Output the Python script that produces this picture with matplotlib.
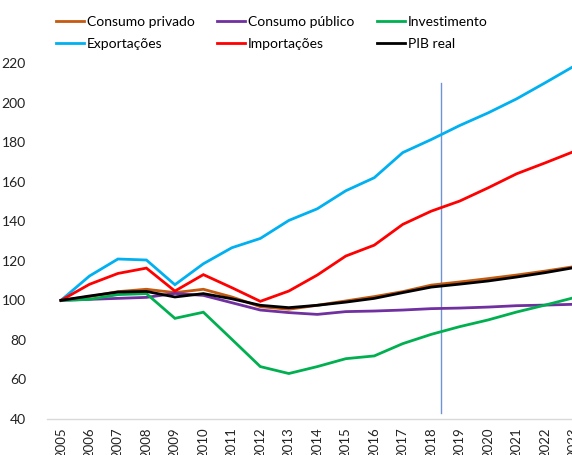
import matplotlib.pyplot as plt
import numpy as np

plt.rcParams['font.family'] = ['Lato', 'DejaVu Sans']

years = [str(y) for y in range(2005, 2024)]

consumo_privado = [100, 101.9, 104.4, 105.6, 103.9, 105.6, 101.7, 96.8, 95.5, 97.5,
                   99.7, 101.9, 104.4, 107.7, 109.3, 111.0, 112.8, 114.8, 117.0]
consumo_publico = [100, 100.5, 101.0, 101.5, 103.5, 102.5, 98.8, 95.1, 93.8, 92.9,
                   94.3, 94.6, 95.1, 95.8, 96.1, 96.6, 97.3, 97.6, 98.0]
investimento = [100, 100.5, 102.9, 103.4, 90.9, 94.0, 80.3, 66.5, 63.0, 66.5,
                70.5, 71.9, 78.1, 82.8, 86.7, 90.1, 94.1, 97.6, 101.3]
exportacoes = [100, 112.3, 120.9, 120.4, 107.9, 118.5, 126.6, 131.3, 140.4, 146.3,
               155.4, 162.0, 174.7, 181.3, 188.4, 194.8, 201.9, 210.0, 218.3]
importacoes = [100, 108.1, 113.6, 116.3, 104.7, 113.0, 106.4, 99.5, 104.7, 112.8,
               122.4, 127.9, 138.4, 145.1, 150.2, 156.9, 164.0, 169.5, 175.2]
pib_real = [100, 102.2, 104.2, 104.5, 101.7, 103.4, 100.8, 97.5, 96.3, 97.5,
            99.1, 101.0, 103.9, 106.7, 108.2, 109.8, 111.8, 114.0, 116.5]

series = [
    ('Consumo privado', consumo_privado, '#C55A11'),
    ('Consumo público', consumo_publico, '#7030A0'),
    ('Investimento', investimento, '#00B050'),
    ('Exportações', exportacoes, '#00B0F0'),
    ('Importações', importacoes, '#FF0000'),
    ('PIB real', pib_real, '#000000'),
]

# vertical marker between 2018 and 2019
marker_x = 13.35
marker_y = [43, 210]

fig = plt.figure(figsize=(5.72, 4.55), dpi=100)
ax = fig.add_axes([0.0817, 0.0791, 0.946, 0.7824])

x = np.arange(len(years))
handles = {}
for name, vals, c in series:
    h, = ax.plot(x, vals, color=c, linewidth=2.0, label=name, solid_joinstyle='miter')
    handles[name] = h

ax.plot([marker_x, marker_x], marker_y, color='#6F93D8', linewidth=1.0, zorder=1)

ax.set_xlim(-0.5, len(years) - 0.5)
ax.set_ylim(40, 220)
ax.set_yticks(range(40, 221, 20))
ax.set_xticks(x)
ax.set_xticklabels(years, rotation=90)
ax.tick_params(axis='y', length=0, pad=15, labelsize=10, colors='#222222')
ax.tick_params(axis='x', length=0, pad=6, labelsize=9.5, colors='#222222')

for s in ['top', 'right', 'left']:
    ax.spines[s].set_visible(False)
ax.spines['bottom'].set_color('#D9D9D9')
ax.spines['bottom'].set_linewidth(1.0)

order = ['Consumo privado', 'Exportações', 'Consumo público', 'Importações',
         'Investimento', 'PIB real']
fig.legend([handles[n] for n in order], order, ncol=3, loc='upper left',
           bbox_to_anchor=(0.076, 0.993), frameon=False, fontsize=10,
           handlelength=2.0, handletextpad=0.2, columnspacing=1.65,
           labelspacing=0.75)

fig.savefig('out.png', dpi=100)
